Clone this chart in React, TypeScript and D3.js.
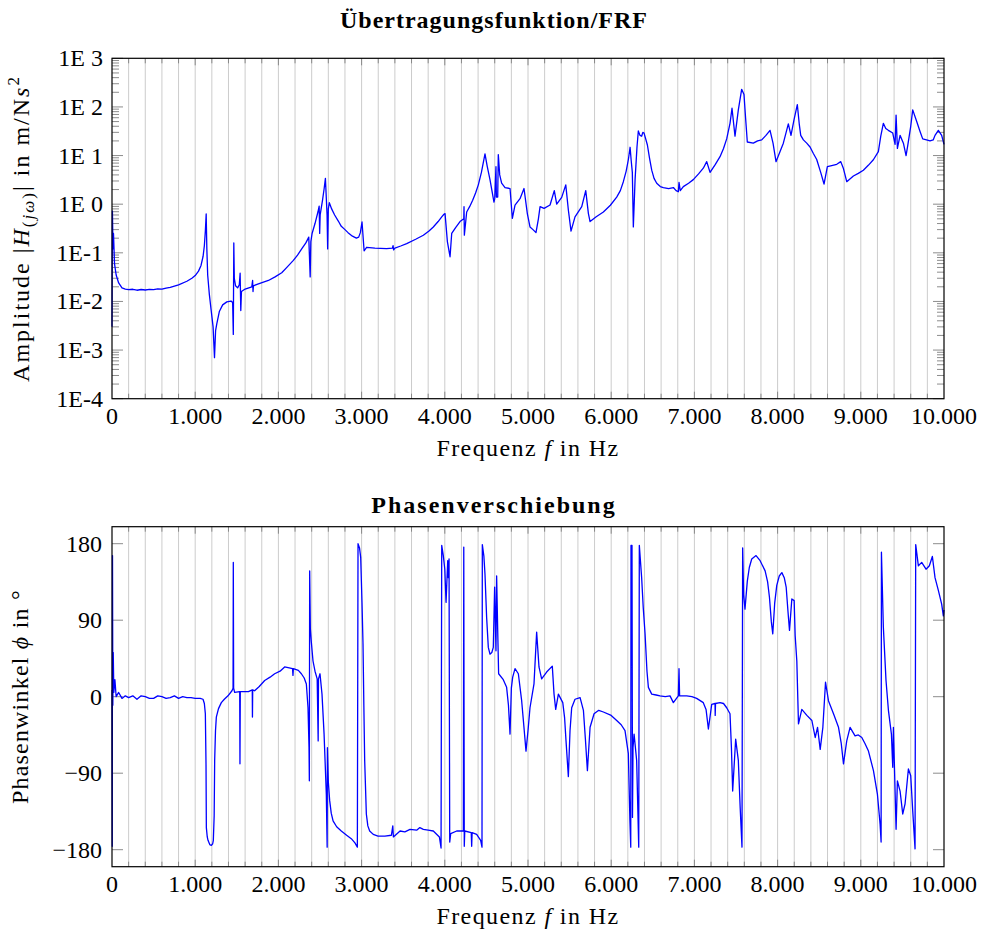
import React from "react";
import * as d3 from "d3";

// [Frequenz in Hz, |H| in m/Ns^2]
const amplitudePoints: [number, number][] = [
  [0, 0.003], [5, 0.72], [12, 0.12], [18, 0.25], [30, 0.06], [50, 0.035], [80, 0.024],
  [120, 0.019], [160, 0.018], [200, 0.0175], [250, 0.0178], [300, 0.017], [350, 0.0176],
  [400, 0.0172], [450, 0.0177], [500, 0.0175], [550, 0.0181], [600, 0.018], [650, 0.0188],
  [700, 0.0195], [800, 0.022], [900, 0.026], [960, 0.03], [1000, 0.034], [1040, 0.042],
  [1070, 0.055], [1095, 0.085], [1110, 0.14], [1122, 0.28], [1128, 0.45], [1132, 0.63],
  [1140, 0.12], [1150, 0.035], [1170, 0.014], [1190, 0.007], [1215, 0.003], [1232, 0.0007],
  [1245, 0.0025], [1260, 0.0035], [1290, 0.0062], [1330, 0.0085], [1380, 0.0098],
  [1430, 0.0102], [1450, 0.0095], [1458, 0.0021], [1464, 0.16], [1470, 0.03], [1485, 0.021],
  [1510, 0.019], [1530, 0.022], [1540, 0.038], [1548, 0.0065], [1556, 0.016], [1600, 0.018],
  [1680, 0.02], [1690, 0.027], [1695, 0.016], [1700, 0.021], [1760, 0.023], [1820, 0.025],
  [1880, 0.027], [1960, 0.032], [2040, 0.039], [2110, 0.052], [2180, 0.07], [2230, 0.09],
  [2280, 0.12], [2330, 0.16], [2365, 0.21], [2382, 0.032], [2390, 0.17], [2405, 0.25],
  [2440, 0.4], [2475, 0.69], [2490, 0.91], [2496, 0.25], [2502, 0.6], [2530, 1.2],
  [2550, 2.1], [2565, 3.4], [2585, 0.6], [2592, 0.12], [2600, 0.8], [2612, 1.07],
  [2640, 0.8], [2676, 0.6], [2720, 0.45], [2756, 0.35], [2800, 0.3], [2837, 0.26],
  [2890, 0.22], [2937, 0.2], [2965, 0.21], [2985, 0.26], [3005, 0.43], [3030, 0.11],
  [3060, 0.13], [3160, 0.125], [3300, 0.122], [3370, 0.125], [3378, 0.14], [3385, 0.115],
  [3400, 0.125], [3470, 0.138], [3542, 0.155], [3650, 0.19], [3742, 0.23], [3810, 0.28],
  [3862, 0.34], [3920, 0.44], [3963, 0.55], [3990, 0.62], [4003, 0.64], [4031, 0.17],
  [4063, 0.083], [4083, 0.25], [4130, 0.33], [4183, 0.44], [4228, 0.5], [4231, 0.89],
  [4235, 0.23], [4263, 0.69], [4300, 0.9], [4335, 1.2], [4370, 1.7], [4403, 2.5],
  [4440, 4.5], [4465, 7.5], [4483, 10.8], [4510, 6.0], [4543, 3.2], [4591, 1.1],
  [4600, 1.3], [4615, 5.9], [4620, 1.4], [4636, 1.4], [4643, 10.5], [4660, 4], [4683, 2.7],
  [4724, 2.2], [4784, 2.1], [4812, 0.51], [4844, 0.96], [4904, 1.3], [4952, 2.1],
  [4992, 0.64], [5024, 0.34], [5060, 0.3], [5096, 0.26], [5125, 0.5], [5145, 0.89],
  [5193, 0.82], [5265, 0.96], [5316, 1.9], [5345, 1.0], [5405, 1.38], [5454, 2.5],
  [5485, 0.76], [5517, 0.28], [5565, 0.55], [5646, 0.89], [5694, 1.9], [5726, 0.64],
  [5746, 0.44], [5820, 0.55], [5906, 0.69], [5990, 0.95], [6066, 1.4], [6110, 1.9],
  [6146, 2.9], [6180, 4.8], [6206, 8.2], [6227, 14.8], [6240, 8], [6254, 4.5], [6266, 0.34],
  [6287, 3.2], [6310, 15], [6326, 32], [6346, 26], [6366, 25], [6380, 30], [6395, 29],
  [6435, 16.5], [6460, 9], [6487, 5.0], [6515, 3.4], [6547, 2.7], [6590, 2.3], [6627, 2.2],
  [6690, 2.1], [6747, 2.2], [6780, 1.9], [6807, 1.8], [6815, 2.8], [6830, 1.9], [6867, 2.3],
  [6930, 2.7], [6987, 3.2], [7050, 4.2], [7107, 5.5], [7148, 7.5], [7188, 4.5], [7250, 6.5],
  [7308, 9.5], [7350, 14], [7388, 22], [7428, 46], [7452, 94], [7488, 25], [7528, 87],
  [7568, 230], [7596, 180], [7615, 60], [7636, 19], [7708, 18], [7760, 20], [7809, 21],
  [7860, 26], [7909, 33], [7945, 18], [7981, 7.5], [8020, 11], [8069, 18], [8129, 45],
  [8161, 26], [8197, 54], [8237, 112], [8260, 45], [8278, 26], [8310, 21], [8350, 18],
  [8390, 15], [8430, 11], [8470, 8.3], [8518, 4.5], [8558, 2.6], [8598, 5.9], [8650, 6.2],
  [8711, 6.6], [8759, 7.5], [8790, 5.5], [8831, 2.9], [8911, 3.8], [8970, 4.3], [9031, 5.0],
  [9090, 6.3], [9151, 8.2], [9211, 12], [9240, 25], [9271, 46], [9300, 36], [9331, 33],
  [9384, 29], [9412, 17], [9424, 68], [9440, 14], [9472, 26], [9512, 18], [9544, 10],
  [9564, 16], [9600, 40], [9624, 87], [9672, 50], [9710, 32], [9744, 22], [9790, 21],
  [9832, 20], [9870, 21], [9892, 26], [9932, 33], [9972, 26], [10000, 17],
];

// [Frequenz in Hz, Phasenwinkel in Grad]
const phasePoints: [number, number][] = [
  [0, 8], [3, -176], [6, 166], [10, -10], [15, 52], [22, 5], [35, 20], [50, 0], [80, 5],
  [120, -2], [160, 1], [200, -1], [250, 1], [300, -3], [350, 1], [400, 0], [450, -2],
  [500, -2], [550, 1], [600, 0], [650, -2], [700, -1], [750, 1], [800, -2], [850, 0],
  [900, -1], [950, -1], [1000, -2], [1060, -2], [1094, -3], [1110, -8], [1122, -20],
  [1130, -80], [1134, -154], [1145, -165], [1154, -169], [1175, -174], [1194, -175],
  [1210, -173], [1218, -169], [1228, -140], [1234, -75], [1244, -40], [1254, -24],
  [1280, -14], [1314, -7], [1350, -3], [1394, 1], [1442, 7], [1455, 10], [1458, 158],
  [1462, 10], [1474, 5], [1535, 6], [1538, -79], [1542, 6], [1640, 6], [1686, 8], [1688, -24],
  [1691, 8], [1714, 7], [1770, 12], [1835, 19], [1900, 23], [1955, 27], [2020, 30],
  [2075, 35], [2130, 34], [2170, 33], [2175, 25], [2180, 33], [2240, 31], [2276, 27],
  [2310, 22], [2336, 15], [2356, -13], [2368, -60], [2372, -99], [2376, 148], [2384, 80],
  [2396, 64], [2416, 42], [2440, 30], [2466, 21], [2478, -52], [2482, 21], [2500, 27],
  [2512, 15], [2524, 3], [2549, -44], [2576, -115], [2586, -177], [2589, -60], [2600, -100],
  [2616, -122], [2635, -137], [2657, -146], [2700, -153], [2756, -158], [2820, -163],
  [2876, -167], [2920, -172], [2949, -177], [2957, 180], [2975, 175], [2989, 164],
  [3005, 110], [3017, 62], [3027, -10], [3037, -75], [3057, -138], [3075, -152], [3097, -158],
  [3140, -162], [3197, -164], [3280, -164], [3358, -163], [3375, -152], [3382, -165],
  [3462, -158], [3520, -159], [3582, -156], [3662, -157], [3700, -154], [3742, -156],
  [3800, -157], [3862, -158], [3935, -165], [3955, -178], [3963, 178], [3982, 166],
  [4000, 150], [4015, 111], [4035, 160], [4043, 140], [4051, 162], [4059, -171],
  [4071, -161], [4143, -158], [4223, -158], [4228, 176], [4234, -176], [4240, -158],
  [4318, -160], [4323, -176], [4328, -160], [4383, -162], [4431, -169], [4447, -177],
  [4451, 179], [4470, 165], [4483, 144], [4503, 93], [4523, 58], [4543, 50], [4565, 52],
  [4583, 58], [4599, 129], [4615, 54], [4623, 142], [4635, 82], [4647, 27], [4703, 20],
  [4743, 11], [4765, -10], [4784, -44], [4800, 10], [4816, 23], [4844, 33], [4884, 27],
  [4924, -5], [4955, -40], [4976, -64], [5000, -40], [5024, -13], [5072, 15], [5104, 76],
  [5132, 35], [5164, 21], [5224, 29], [5292, 36], [5313, 3], [5333, -15], [5365, 3],
  [5418, -7], [5440, -25], [5457, -52], [5485, -94], [5505, -40], [5525, -13], [5565, -3],
  [5626, -1], [5666, -16], [5690, -50], [5714, -87], [5746, -36], [5794, -20], [5850, -16],
  [5906, -18], [6000, -22], [6066, -28], [6120, -33], [6166, -40], [6206, -67], [6225, -146],
  [6235, -177], [6238, 178], [6250, 178], [6256, -142], [6262, -60], [6275, -44],
  [6306, -75], [6331, -177], [6338, 178], [6366, 140], [6385, 105], [6407, 74], [6430, 30],
  [6447, 11], [6487, 3], [6540, 2], [6587, 1], [6650, 0], [6707, 1], [6747, -7], [6807, 1],
  [6815, 33], [6822, 1], [6907, 1], [6970, 0], [7027, -2], [7107, -7], [7140, -15],
  [7168, -38], [7208, -9], [7248, -8], [7250, -22], [7254, -8], [7308, -7], [7350, -8],
  [7388, -13], [7428, -20], [7445, -60], [7460, -111], [7496, -50], [7528, -75], [7550, -130],
  [7572, -177], [7580, 175], [7592, 120], [7608, 103], [7636, 136], [7660, 152], [7689, 162],
  [7741, 166], [7790, 160], [7850, 148], [7880, 135], [7902, 117], [7925, 88], [7942, 74],
  [7965, 110], [7990, 131], [8020, 142], [8051, 146], [8080, 140], [8103, 129], [8125, 100],
  [8143, 78], [8171, 115], [8199, 113], [8211, 72], [8231, 42], [8251, -32], [8291, -15],
  [8352, -22], [8412, -28], [8452, -48], [8480, -36], [8512, -62], [8544, -36], [8576, 17],
  [8612, -5], [8672, -20], [8732, -36], [8765, -55], [8792, -79], [8831, -52], [8871, -36],
  [8931, -46], [8970, -45], [9012, -48], [9050, -55], [9092, -64], [9152, -87], [9200, -115],
  [9232, -150], [9244, -171], [9248, 170], [9271, 82], [9303, 19], [9332, -16], [9368, -44],
  [9384, -83], [9392, -36], [9424, -156], [9440, -99], [9472, -111], [9504, -138],
  [9532, -126], [9572, -85], [9600, -93], [9624, -134], [9652, -179], [9660, 179],
  [9692, 154], [9732, 158], [9784, 150], [9824, 154], [9860, 165], [9892, 140], [9932, 125],
  [9972, 109], [9992, 95], [10000, 102],
];

const freqTicks = [0, 1000, 2000, 3000, 4000, 5000, 6000, 7000, 8000, 9000, 10000];
const freqTickLabels = ["0", "1.000", "2.000", "3.000", "4.000", "5.000", "6.000", "7.000", "8.000", "9.000", "10.000"];
const ampTicks = [1e-4, 1e-3, 1e-2, 1e-1, 1, 10, 100, 1000];
const ampTickLabels = ["1E-4", "1E-3", "1E-2", "1E-1", "1E 0", "1E 1", "1E 2", "1E 3"];
const phaseTicks = [-180, -90, 0, 90, 180];
const phaseTickLabels = ["\u2212180", "\u221290", "0", "90", "180"];

const FONT = "'Liberation Serif', 'Times New Roman', serif";
const left = 112;
const right = 944;
const ampTop = 58.3;
const ampBottom = 398.7;
const phTop = 526.7;
const phBottom = 866.7;
const titleX = 494;

const x = d3.scaleLinear().domain([0, 10000]).range([left, right]);
const yAmp = d3.scaleLog().domain([1e-4, 1e3]).range([ampBottom, ampTop]);
const yPh = d3.scaleLinear().domain([-200, 200]).range([phBottom, phTop]);

const minorFreq = d3.range(200, 10000, 200);

function FreqGrid({ top, bottom }: { top: number; bottom: number }) {
  return (
    <g>
      {minorFreq.map((f) => (
        <line key={"g" + f} x1={x(f)} x2={x(f)} y1={top} y2={bottom} stroke="#cccccc" strokeWidth={1} />
      ))}
      {minorFreq.map((f) => {
        const len = f % 1000 === 0 ? 7 : 5;
        return (
          <g key={"t" + f} stroke="#808080" strokeWidth={0.9}>
            <line x1={x(f)} x2={x(f)} y1={bottom} y2={bottom - len} />
            <line x1={x(f)} x2={x(f)} y1={top} y2={top + len} />
          </g>
        );
      })}
    </g>
  );
}

function FreqLabels({ bottom }: { bottom: number }) {
  return (
    <g fontFamily={FONT} fontSize={24} textAnchor="middle" fill="#000">
      {freqTicks.map((f, i) => (
        <text key={f} x={x(f)} y={bottom + 25}>{freqTickLabels[i]}</text>
      ))}
      <text x={(left + right) / 2} y={bottom + 57} letterSpacing={1.4}>
        Frequenz <tspan fontStyle="italic">f</tspan> in Hz
      </text>
    </g>
  );
}

export default function App() {
  const ampLine = d3.line<[number, number]>()
    .x((d) => x(d[0]))
    .y((d) => yAmp(d[1]));
  const phLine = d3.line<[number, number]>()
    .x((d) => x(d[0]))
    .y((d) => yPh(d[1]));

  const minorAmp: number[] = [];
  for (let e = -4; e < 3; e++) {
    for (let k = 2; k <= 9; k++) minorAmp.push(k * Math.pow(10, e));
  }

  return (
    <svg width={988} height={931} style={{ position: "absolute", left: 0, top: 0, background: "#fff" }}>
      <rect x={0} y={0} width={988} height={931} fill="#fff" />

      {/* Amplitude */}
      <text x={titleX} y={28} fontFamily={FONT} fontSize={24} fontWeight="bold"
        textAnchor="middle" letterSpacing={1}>Übertragungsfunktion/FRF</text>
      <FreqGrid top={ampTop} bottom={ampBottom} />
      <g stroke="#808080" strokeWidth={0.9}>
        {minorAmp.map((v) => (
          <g key={v}>
            <line x1={left} x2={left + 7} y1={yAmp(v)} y2={yAmp(v)} />
            <line x1={right} x2={right - 7} y1={yAmp(v)} y2={yAmp(v)} />
          </g>
        ))}
        {ampTicks.map((v) => (
          <g key={v}>
            <line x1={left} x2={left + 11} y1={yAmp(v)} y2={yAmp(v)} />
            <line x1={right} x2={right - 11} y1={yAmp(v)} y2={yAmp(v)} />
          </g>
        ))}
      </g>
      <path d={ampLine(amplitudePoints) || ""} fill="none" stroke="#0000ff" strokeWidth={1.3} strokeLinejoin="round" />
      <rect x={left} y={ampTop} width={right - left} height={ampBottom - ampTop} fill="none" stroke="#000" strokeWidth={1.2} />
      <g fontFamily={FONT} fontSize={24} textAnchor="end">
        {ampTicks.map((v, i) => (
          <text key={v} x={103} y={yAmp(v) + 8} style={{ whiteSpace: "pre" }}>{ampTickLabels[i]}</text>
        ))}
      </g>
      <FreqLabels bottom={ampBottom} />
      <text transform={`translate(29,${(ampTop + ampBottom) / 2}) rotate(-90)`} fontFamily={FONT}
        fontSize={24} textAnchor="middle" letterSpacing={2}>
        Amplitude |<tspan fontStyle="italic">H</tspan>
        <tspan fontSize={17} dy={5}>(<tspan fontStyle="italic">jω</tspan>)</tspan>
        <tspan dy={-5}>| in m/N</tspan><tspan fontStyle="italic">s</tspan>
        <tspan fontSize={17} dy={-10}>2</tspan>
      </text>

      {/* Phase */}
      <text x={titleX} y={513} fontFamily={FONT} fontSize={24} fontWeight="bold"
        textAnchor="middle" letterSpacing={2}>Phasenverschiebung</text>
      <FreqGrid top={phTop} bottom={phBottom} />
      <g stroke="#808080" strokeWidth={0.9}>
        {phaseTicks.map((v) => (
          <g key={v}>
            <line x1={left} x2={left + 11} y1={yPh(v)} y2={yPh(v)} />
            <line x1={right} x2={right - 11} y1={yPh(v)} y2={yPh(v)} />
          </g>
        ))}
      </g>
      <path d={phLine(phasePoints) || ""} fill="none" stroke="#0000ff" strokeWidth={1.3} strokeLinejoin="round" />
      <rect x={left} y={phTop} width={right - left} height={phBottom - phTop} fill="none" stroke="#000" strokeWidth={1.2} />
      <g fontFamily={FONT} fontSize={24} textAnchor="end">
        {phaseTicks.map((v, i) => (
          <text key={v} x={102} y={yPh(v) + 8}>{phaseTickLabels[i]}</text>
        ))}
      </g>
      <FreqLabels bottom={phBottom} />
      <text transform={`translate(28,${(phTop + phBottom) / 2}) rotate(-90)`} fontFamily={FONT}
        fontSize={24} textAnchor="middle" letterSpacing={1.2}>
        Phasenwinkel <tspan fontStyle="italic">ϕ</tspan> in °
      </text>
    </svg>
  );
}
